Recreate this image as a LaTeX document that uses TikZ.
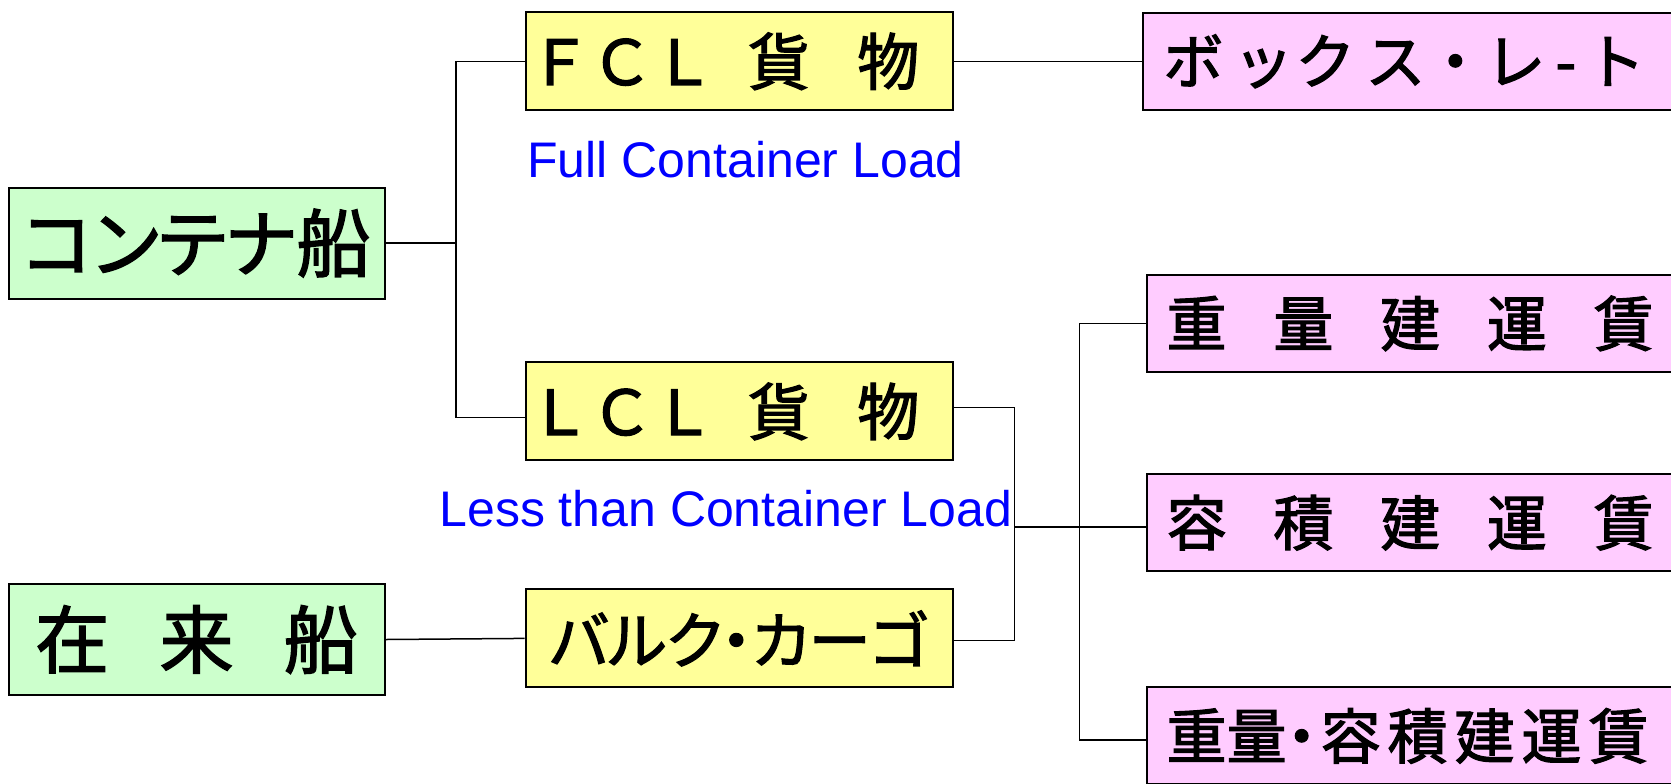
\documentclass[tikz,border=0pt]{standalone}
\usepackage{fontspec}
\setmainfont{Liberation Sans}
\newfontfamily\jp[FakeBold=2]{Noto Sans CJK JP}
\newfontfamily\jpp[FakeBold=2,RawFeature=+palt]{Noto Sans CJK JP}
\definecolor{shipgreen}{HTML}{CCFFCC}
\definecolor{cargoyellow}{HTML}{FFFF99}
\definecolor{ratepink}{HTML}{FFCCFF}

\begin{document}
\begin{tikzpicture}[x=0.5pt,y=-0.5pt]
    \useasboundingbox (0,0) rectangle (1671,783);
    \clip (0,0) rectangle (1671,783);
    \tikzset{Ship/.style = {draw, line width=1pt, fill=shipgreen, minimum width=188pt, minimum height=55.5pt, inner sep=0pt, font=\jp\fontsize{37}{37}\selectfont}}
    \tikzset{Cargo/.style = {draw, line width=1pt, fill=cargoyellow, minimum width=213.5pt, minimum height=49pt, inner sep=0pt, font=\jp\fontsize{31}{31}\selectfont}}
    \tikzset{Rate/.style = {draw, line width=1pt, fill=ratepink, anchor=west, minimum height=48.5pt, text width=280pt, inner xsep=10pt, inner ysep=0pt, align=left, font=\jp\fontsize{30}{30}\selectfont}}
    \tikzset{Note/.style = {anchor=base west, inner sep=0pt, text=blue, font=\fontsize{25}{25}\selectfont}}
    \tikzset{Link/.style = {line width=0.75pt}}

    \node[Ship] (ctr) at (196.6,243) {\jpp コンテナ船};
    \node[Ship] (trad) at (196.6,639.5) {在\hspace{.68em}来\hspace{.68em}船};

    \node[Cargo] (fcl) at (739,61.3) {ＦＣＬ\hspace{16.6pt}貨\hspace{23.7pt}物\kern15pt};
    \node[Cargo] (lcl) at (739,411.4) {ＬＣＬ\hspace{16.6pt}貨\hspace{23.7pt}物\kern15pt};
    \node[Cargo] (blk) at (739,638.4) {\jpp バルク・カーゴ};

    \node[Note] (fnote) at (527,177) {Full Container Load};
    \node[Note] (lnote) at (439,526) {Less than Container Load};

    \node[Rate] (box) at (1142.4,61.3) {ボ\hspace{5pt}ッ\hspace{1pt}ク\hspace{5pt}ス・レ\hspace{5pt}-\hspace{4.5pt}ト};
    \node[Rate] (wt) at (1145.6,323.4) {重\hspace{.78em}量\hspace{.78em}建\hspace{.78em}運\hspace{.78em}賃};
    \node[Rate] (vol) at (1145.6,522.7) {容\hspace{.78em}積\hspace{.78em}建\hspace{.78em}運\hspace{.78em}賃};
    \node[Rate] (wv) at (1145.6,735.9) {重量{\jpp ・}\hspace{2pt}容\hspace{3.5pt}積\hspace{3.5pt}建\hspace{3.5pt}運\hspace{3.5pt}賃};

    \coordinate (cj) at (456,243);
    \coordinate (bj) at (1014.6,527);
    \coordinate (rj) at (1079.6,527);

    \draw[Link] (ctr.east) -- (cj);
    \draw[Link] (fcl.west) -| (cj) |- ([yshift=-3pt]lcl.west);
    \draw[Link] (fcl.east) -- (box.west);
    \draw[Link] (trad.east) -- (blk.west);
    \draw[Link] ([yshift=2pt]lcl.east) -| (bj) |- ([yshift=-1pt]blk.east);
    \draw[Link] (bj) -- (bj -| vol.west);
    \draw[Link] (wt.west) -| (rj) |- ([yshift=-2pt]wv.west);
\end{tikzpicture}
\end{document}
